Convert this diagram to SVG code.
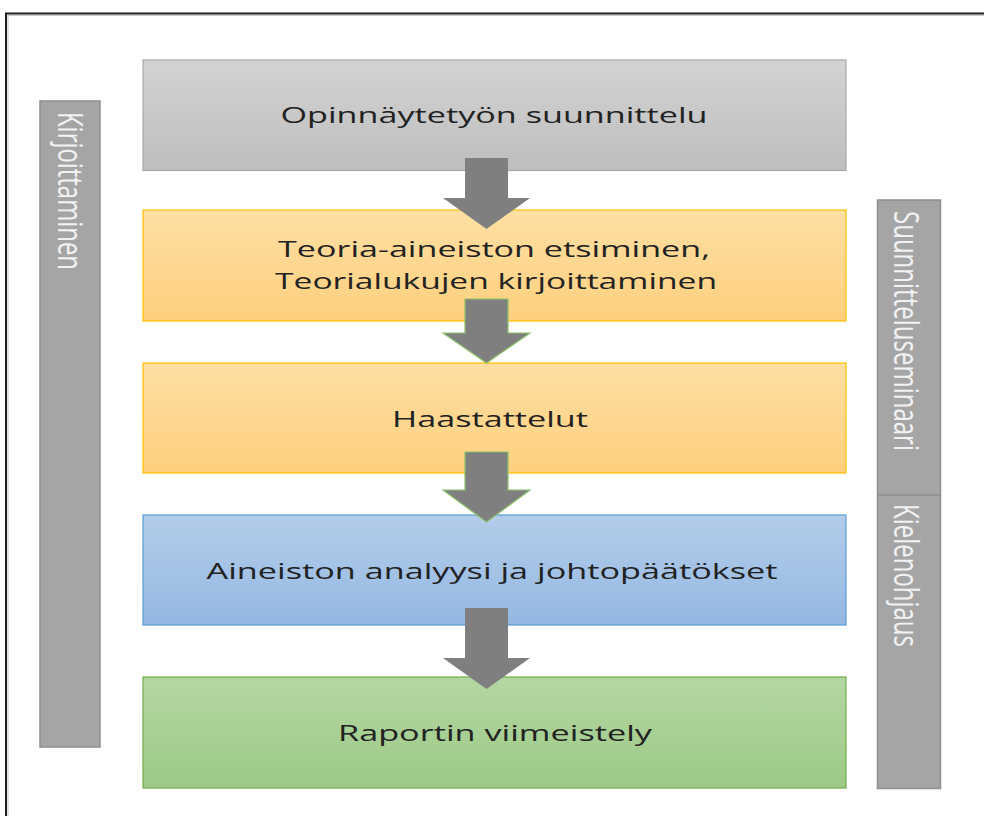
<svg xmlns="http://www.w3.org/2000/svg" width="984" height="816" viewBox="0 0 984 816">
<defs>
<linearGradient id="gGray" x1="0" y1="0" x2="0" y2="1"><stop offset="0" stop-color="#d3d3d3"/><stop offset="1" stop-color="#bebebe"/></linearGradient>
<linearGradient id="gGold" x1="0" y1="0" x2="0" y2="1"><stop offset="0" stop-color="#ffdfa3"/><stop offset="1" stop-color="#fdd07e"/></linearGradient>
<linearGradient id="gBlue" x1="0" y1="0" x2="0" y2="1"><stop offset="0" stop-color="#b3cdea"/><stop offset="1" stop-color="#94b8e2"/></linearGradient>
<linearGradient id="gGreen" x1="0" y1="0" x2="0" y2="1"><stop offset="0" stop-color="#b5d6a3"/><stop offset="1" stop-color="#9cca85"/></linearGradient>
</defs>
<style>
.lbl{font-family:"Open Sans","Noto Sans","Liberation Sans",sans-serif;font-size:22.4px;fill:#222;text-anchor:middle}
.vl{font-family:"Open Sans","Noto Sans","Liberation Sans",sans-serif;font-size:35px;fill:#f2f2f2}
.arrow{fill:#7f7f7f}
.arrowG{fill:#7f7f7f;stroke:#8cc06a;stroke-width:1.2}
.bar{fill:#a5a5a5;stroke:#8f8f8f;stroke-width:1.5}
</style>
<rect width="984" height="816" fill="#ffffff"/>
<rect x="6" y="13.5" width="1010" height="830" fill="none" stroke="#1e1e1e" stroke-width="2"/>
<rect x="8" y="15.5" width="1010" height="830" fill="none" stroke="#c8c8c8" stroke-width="1"/>

<g id="bar-kirjoittaminen">
<rect class="bar" x="40" y="101" width="60" height="646" stroke="#d8d8d8" stroke-width="1"/>
<text class="vl" transform="translate(58,112) rotate(90)" textLength="158" lengthAdjust="spacingAndGlyphs">Kirjoittaminen</text>
</g>

<g id="bar-right">
<rect class="bar" x="877.5" y="200" width="63" height="588.5"/>
<line x1="877.5" y1="495" x2="940.5" y2="495" stroke="#8f8f8f" stroke-width="1.5"/>
</g>
<g id="bar-suunnitteluseminaari">
<text class="vl" transform="translate(894,211) rotate(90)" textLength="240" lengthAdjust="spacingAndGlyphs">Suunnitteluseminaari</text>
</g>
<g id="bar-kielenohjaus">
<text class="vl" transform="translate(894,504) rotate(90)" textLength="143" lengthAdjust="spacingAndGlyphs">Kielenohjaus</text>
</g>

<g id="box1">
<rect x="143" y="60" width="703" height="110.5" fill="url(#gGray)" stroke="#a8a8a8" stroke-width="1.2"/>
<text class="lbl" x="494" y="123" textLength="427" lengthAdjust="spacingAndGlyphs">Opinnäytetyön suunnittelu</text>
</g>
<g id="box2">
<rect x="143" y="210" width="703" height="111" fill="url(#gGold)" stroke="#ffc000" stroke-width="1.2"/>
<text class="lbl" x="494" y="257" textLength="432" lengthAdjust="spacingAndGlyphs">Teoria-aineiston etsiminen,</text>
<text class="lbl" x="496" y="289" textLength="442" lengthAdjust="spacingAndGlyphs">Teorialukujen kirjoittaminen</text>
</g>
<g id="box3">
<rect x="143" y="363" width="703" height="110" fill="url(#gGold)" stroke="#ffc000" stroke-width="1.2"/>
<text class="lbl" x="490" y="427" textLength="196" lengthAdjust="spacingAndGlyphs">Haastattelut</text>
</g>
<g id="box4">
<rect x="143" y="515" width="703" height="110" fill="url(#gBlue)" stroke="#5b9bd5" stroke-width="1.2"/>
<text class="lbl" x="492" y="579" textLength="571" lengthAdjust="spacingAndGlyphs">Aineiston analyysi ja johtopäätökset</text>
</g>
<g id="box5">
<rect x="143" y="677" width="703" height="111" fill="url(#gGreen)" stroke="#70ad47" stroke-width="1.2"/>
<text class="lbl" x="495" y="741" textLength="314" lengthAdjust="spacingAndGlyphs">Raportin viimeistely</text>
</g>

<g id="connectors">
<polygon class="arrow" points="465,158 508,158 508,198 530,198 486.5,229 443,198 465,198"/>
<polygon class="arrowG" points="465,299 508,299 508,333 530,333 486.5,363 443,333 465,333"/>
<polygon class="arrowG" points="465,452 508,452 508,490 530,490 486.5,522 443,490 465,490"/>
<polygon class="arrow" points="465,608 508,608 508,658 530,658 486.5,689 443,658 465,658"/>
</g>
</svg>
